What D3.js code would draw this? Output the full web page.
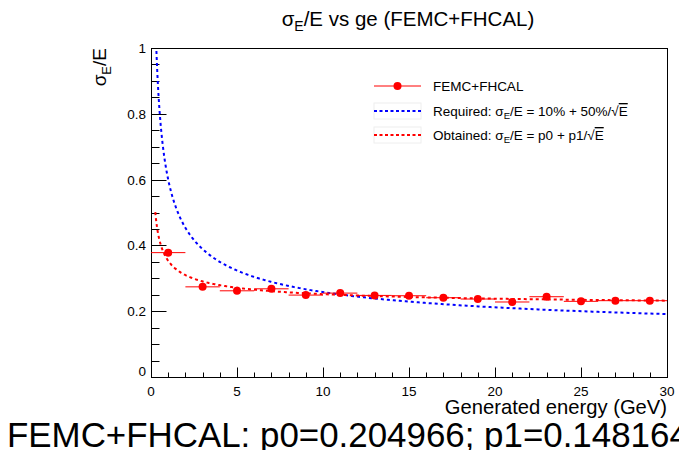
<!DOCTYPE html>
<html><head><meta charset="utf-8">
<script src="https://cdn.jsdelivr.net/npm/d3@7"></script>
<style>
body{margin:0;background:#fff;}
svg{display:block;font-family:"Liberation Sans",Arial,sans-serif;}
</style></head>
<body><svg id="c" width="679" height="450"></svg>
<script>
// data
const energies = [1,3,5,7,9,11,13,15,17,19,21,23,25,27,29];
const energyErr = [1,1,1,1,1,1,1,1,1,1,1,1,1,1,1];
const resolution = [0.378,0.274,0.262,0.268,0.249,0.255,0.248,0.247,0.241,0.237,0.228,0.244,0.230,0.232,0.232];
const requiredParams = [0.10, 0.50];       // 10% + 50%/sqrt(E)
const obtainedParams = [0.204966, 0.148164]; // fit p0, p1
const funcRange = [0.25, 30];
const xTicks = [0,5,10,15,20,25,30];
const yTicks = [0,0.2,0.4,0.6,0.8,1];

const svg = d3.select("#c");
const L=151, R=667, T=48, B=377;
const x = d3.scaleLinear().domain([0,30]).range([L,R]);
const y = d3.scaleLinear().domain([0,1]).range([B,T]);

svg.append("defs").append("clipPath").attr("id","clip")
  .append("rect").attr("x",L).attr("y",T).attr("width",R-L).attr("height",B-T);

// frame
svg.append("rect").attr("x",L+0.5).attr("y",T+0.5).attr("width",R-L).attr("height",B-T)
  .attr("fill","none").attr("stroke","#000").attr("stroke-width",1);

// x axis ticks
const gx = svg.append("g");
d3.range(0,31,1).forEach(v=>{
  const major = v%5===0;
  gx.append("line").attr("x1",Math.round(x(v))+0.5).attr("x2",Math.round(x(v))+0.5)
    .attr("y1",B+0.5).attr("y2",B+0.5-(major?10:5)).attr("stroke","#000");
});
xTicks.forEach(v=>{
  gx.append("text").attr("x",x(v)).attr("y",396).attr("text-anchor","middle")
    .attr("font-size",13.5).text(d3.format("")(v));
});
// y axis ticks
const gy = svg.append("g");
d3.range(0,21,1).forEach(i=>{
  const v=i*0.05, major = i%4===0;
  gy.append("line").attr("x1",L+0.5).attr("x2",L+0.5+(major?15:8))
    .attr("y1",Math.round(y(v))+0.5).attr("y2",Math.round(y(v))+0.5).attr("stroke","#000");
});
yTicks.forEach(v=>{
  gy.append("text").attr("x",146).attr("y",y(v)+(v===0?-1:5)).attr("text-anchor","end")
    .attr("font-size",13.5).text(v===0?"0":(v===1?"1":d3.format(".1f")(v)));
});

// axis titles
svg.append("text").attr("x",R).attr("y",414).attr("text-anchor","end")
  .attr("font-size",20.2).text("Generated energy (GeV)");
const yt = svg.append("text").attr("transform",`translate(106,${T}) rotate(-90)`)
  .attr("text-anchor","end").attr("font-size",19);
yt.append("tspan").text("σ");
yt.append("tspan").attr("font-size",13).attr("dy",5).text("E");
yt.append("tspan").attr("dy",-5).text("/E");

// title
const tt = svg.append("text").attr("x",408).attr("y",26).attr("text-anchor","middle").attr("font-size",20.5);
tt.append("tspan").text("σ");
tt.append("tspan").attr("font-size",14).attr("dy",5).text("E");
tt.append("tspan").attr("dy",-5).text("/E vs ge (FEMC+FHCAL)");

// functions
const plot = svg.append("g").attr("clip-path","url(#clip)");
const fn = p => e => p[0] + p[1]/Math.sqrt(e);
const grid = d3.range(0,401).map(i=>funcRange[0]*Math.pow(funcRange[1]/funcRange[0], i/400));
const line = d3.line().x(d=>x(d[0])).y(d=>y(d[1]));
plot.append("path").attr("d",line(grid.map(e=>[e,fn(requiredParams)(e)])))
  .attr("fill","none").attr("stroke","#0000ff").attr("stroke-width",2).attr("stroke-dasharray","3,3");
plot.append("path").attr("d",line(grid.map(e=>[e,fn(obtainedParams)(e)])))
  .attr("fill","none").attr("stroke","#ff0000").attr("stroke-width",2).attr("stroke-dasharray","3,3");

// data points
const pts = plot.append("g");
energies.forEach((e,i)=>{
  pts.append("line").attr("x1",x(e-energyErr[i])).attr("x2",x(e+energyErr[i]))
    .attr("y1",y(resolution[i])).attr("y2",y(resolution[i])).attr("stroke","#ff0000").attr("stroke-width",1);
});
pts.selectAll("circle").data(energies).join("circle")
  .attr("cx",d=>x(d)).attr("cy",(d,i)=>y(resolution[i])).attr("r",4).attr("fill","#ff0000");

// legend
const lg = svg.append("g").attr("font-size",13.5);
const lx1=374, lx2=421, tx=433;
lg.append("line").attr("x1",lx1).attr("x2",lx2).attr("y1",86).attr("y2",86).attr("stroke","#ff0000");
lg.append("circle").attr("cx",(lx1+lx2)/2).attr("cy",86).attr("r",4).attr("fill","#ff0000");
lg.append("text").attr("x",tx).attr("y",91).text("FEMC+FHCAL");
[[111,"#0000ff","Required: ",["σ","E","/E = 10% + 50%/"]],[135,"#ff0000","Obtained: ",["σ","E","/E = p0 + p1/"]]].forEach(r=>{
  lg.append("rect").attr("x",lx1).attr("y",r[0]-8).attr("width",lx2-lx1).attr("height",16)
    .attr("fill","none").attr("stroke","#eee");
  lg.append("line").attr("x1",lx1).attr("x2",lx2).attr("y1",r[0]).attr("y2",r[0])
    .attr("stroke",r[1]).attr("stroke-width",2).attr("stroke-dasharray","3,2.5");
  const t = lg.append("text").attr("x",tx).attr("y",r[0]+5);
  t.append("tspan").text(r[2]+r[3][0]);
  t.append("tspan").attr("font-size",9.5).attr("dy",3).text(r[3][1]);
  t.append("tspan").attr("dy",-3).text(r[3][2]);
  t.append("tspan").text("√");
  t.append("tspan").style("text-decoration","overline").text("E");
});

// bottom text
svg.append("text").attr("x",7).attr("y",447).attr("font-size",34.9)
  .text("FEMC+FHCAL: p0=" + obtainedParams[0] + "; p1=" + obtainedParams[1]);
</script></body></html>
